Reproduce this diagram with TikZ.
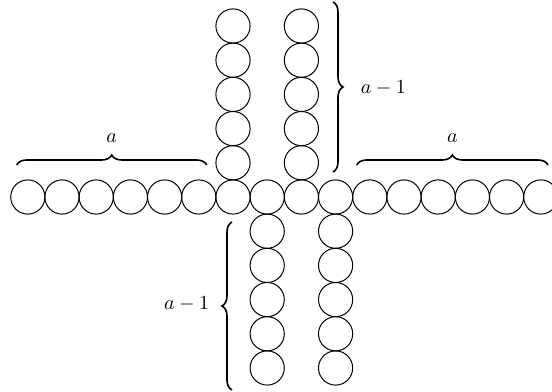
\documentclass[tikz,border=0pt]{standalone}
\usetikzlibrary{decorations.pathreplacing}
\begin{document}
\begin{tikzpicture}[x=0.017544cm,y=-0.017544cm,
  ball/.style={circle,draw,line width=0.5pt,minimum size=0.6cm,inner sep=0pt},
  brc/.style={decorate,decoration={brace,amplitude=5pt},line width=0.8pt},
  lbl/.style={inner sep=0pt}]
\useasboundingbox (0,0) rectangle (552,392);
% horizontal row
\foreach \i in {1,...,16}
  \node[ball] (r\i) at ({27.8+34.2*(\i-1)},197) {};
% vertical columns
\foreach \k in {1,...,5} {
  \node[ball] (u\k) at ({27.8+34.2*6},{197-34.2*\k}) {};
  \node[ball] (v\k) at ({27.8+34.2*8},{197-34.2*\k}) {};
  \node[ball] (l\k) at ({27.8+34.2*7},{197+34.2*\k}) {};
  \node[ball] (m\k) at ({27.8+34.2*9},{197+34.2*\k}) {};
}
% braces
\coordinate (bl1) at (16.7,165);
\coordinate (bl2) at (206.7,165);
\coordinate (br1) at (356.7,165);
\coordinate (br2) at (548,165);
\coordinate (bu1) at (333,2);
\coordinate (bu2) at (333,172);
\coordinate (bd1) at (232,390);
\coordinate (bd2) at (232,222);
\draw[brc] (bl1) -- (bl2);
\draw[brc] (br1) -- (br2);
\draw[brc] (bu1) -- (bu2);
\draw[brc] (bd1) -- (bd2);
\node[lbl] (la) at (111.7,138) {$a$};
\node[lbl] (ra) at (452.3,138) {$a$};
\node[lbl] (ua) at (383.3,88) {$a-1$};
\node[lbl] (da) at (186.7,304) {$a-1$};
\end{tikzpicture}
\end{document}
